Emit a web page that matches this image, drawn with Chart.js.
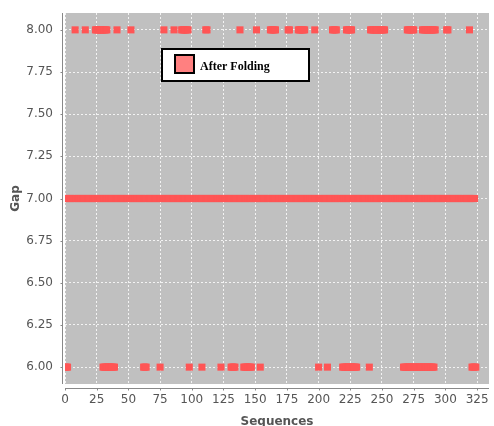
<!DOCTYPE html>
<html>
<head>
<meta charset="utf-8">
<script src="https://cdn.jsdelivr.net/npm/chart.js@4/dist/chart.umd.min.js"></script>
<style>
  html, body { margin: 0; padding: 0; background: #ffffff; }
  #wrap { width: 494px; height: 426px; }
</style>
</head>
<body>
<div id="wrap"><canvas id="chart" width="494" height="426"></canvas></div>
<script>
// Series name shown in the legend
const seriesName = 'After Folding';

// Every sequence in this span has a gap of 7
const gap7Span = [0, 323];

// Runs of consecutive sequences [first, last] that also have a gap of 8
const gap8Runs = [
  [8, 8], [16, 16], [24, 33], [41, 41], [52, 52], [78, 78], [86, 86],
  [92, 97], [111, 112], [138, 138], [151, 151], [162, 166], [176, 177],
  [184, 189], [197, 197], [211, 214], [222, 226], [241, 252], [270, 275],
  [282, 292], [301, 302], [319, 319]
];

// Runs of consecutive sequences [first, last] that also have a gap of 6
const gap6Runs = [
  [0, 2], [30, 39], [62, 64], [75, 75], [98, 98], [108, 108], [123, 123],
  [131, 134], [141, 147], [154, 154], [200, 200], [207, 207], [219, 230],
  [240, 240], [267, 291], [321, 324]
];

// Axis ticks
const xTickValues = [0, 25, 50, 75, 100, 125, 150, 175, 200, 225, 250, 275, 300, 325];
const yTickValues = [6.00, 6.25, 6.50, 6.75, 7.00, 7.25, 7.50, 7.75, 8.00];

// Axis titles
const xTitle = 'Sequences';
const yTitle = 'Gap';

function runsToPoints(runs, gap) {
  const pts = [];
  for (const [first, last] of runs) {
    for (let s = first; s <= last; s++) pts.push({ x: s, y: gap });
  }
  return pts;
}

const points = [
  ...runsToPoints([gap7Span], 7),
  ...runsToPoints(gap8Runs, 8),
  ...runsToPoints(gap6Runs, 6)
];

const AXIS_GRAY = '#888888';
const TEXT_GRAY = '#555555';

// Grey plot background
const plotBackground = {
  id: 'plotBackground',
  beforeDraw(chart) {
    const { ctx, chartArea: a } = chart;
    ctx.save();
    ctx.fillStyle = '#c0c0c0';
    ctx.fillRect(a.left, a.top, a.right - a.left, a.bottom - a.top);
    ctx.restore();
  }
};

// Axis lines set slightly off the plot, with short tick marks
const offsetAxes = {
  id: 'offsetAxes',
  afterDraw(chart) {
    const { ctx, chartArea: a, scales } = chart;
    ctx.save();
    ctx.strokeStyle = AXIS_GRAY;
    ctx.lineWidth = 1;
    ctx.beginPath();
    // y axis
    const ax = a.left - 2.5;
    ctx.moveTo(ax, a.top);
    ctx.lineTo(ax, a.bottom);
    for (const v of yTickValues) {
      const py = Math.round(scales.y.getPixelForValue(v)) + 0.5;
      ctx.moveTo(ax - 2, py);
      ctx.lineTo(ax, py);
    }
    // x axis
    const ay = a.bottom + 4.5;
    ctx.moveTo(a.left, ay);
    ctx.lineTo(a.right, ay);
    for (const v of xTickValues) {
      const px = Math.round(scales.x.getPixelForValue(v)) + 0.5;
      ctx.moveTo(px, ay);
      ctx.lineTo(px, ay + 2);
    }
    ctx.stroke();
    ctx.restore();
  }
};

// Boxed legend inside the plot
const boxedLegend = {
  id: 'boxedLegend',
  afterDatasetsDraw(chart) {
    const { ctx } = chart;
    const ds = chart.data.datasets[0];
    ctx.save();
    ctx.fillStyle = '#ffffff';
    ctx.fillRect(162, 49, 147, 32);
    ctx.strokeStyle = '#000000';
    ctx.lineWidth = 2;
    ctx.strokeRect(162, 49, 147, 32);
    ctx.fillStyle = '#ff8080';
    ctx.fillRect(175, 55, 19, 18);
    ctx.strokeRect(175, 55, 19, 18);
    ctx.fillStyle = '#000000';
    ctx.font = 'bold 12px "Liberation Serif", "Times New Roman", serif';
    ctx.textBaseline = 'alphabetic';
    ctx.textAlign = 'left';
    ctx.fillText(ds.label, 200, 70);
    ctx.restore();
  }
};

const tickFont = { family: '"DejaVu Sans", sans-serif', size: 12 };
const titleFont = { family: '"DejaVu Sans", sans-serif', size: 12, weight: 'bold' };

new Chart(document.getElementById('chart'), {
  type: 'scatter',
  data: {
    datasets: [{
      label: seriesName,
      data: points,
      pointStyle: 'rect',
      pointRadius: 5,
      pointHoverRadius: 5,
      pointBorderWidth: 0,
      backgroundColor: '#ff5555',
      borderColor: '#ff5555',
      clip: 0
    }]
  },
  options: {
    responsive: false,
    devicePixelRatio: 1,
    animation: false,
    events: [],
    layout: { padding: { top: 13, right: 1, left: 0, bottom: 0 } },
    plugins: {
      legend: { display: false },
      tooltip: { enabled: false }
    },
    scales: {
      x: {
        type: 'linear',
        position: 'bottom',
        min: 0,
        max: 334.4,
        afterFit(s) {
          s.height = 42;
          s.paddingLeft = 0; s.paddingRight = 0; s.paddingTop = 0; s.paddingBottom = 0;
        },
        afterBuildTicks(s) { s.ticks = xTickValues.map(v => ({ value: v })); },
        grid: { color: 'rgba(255,255,255,0.8)', lineWidth: 1, drawTicks: false },
        border: { display: false, dash: [2, 2] },
        ticks: { padding: 9, font: tickFont, color: TEXT_GRAY, autoSkip: false, maxRotation: 0 },
        title: {
          display: true, text: xTitle, font: titleFont, color: TEXT_GRAY,
          padding: { top: 0, bottom: -3 }
        }
      },
      y: {
        type: 'linear',
        min: 5.9,
        max: 8.1,
        afterFit(s) {
          s.width = 65;
          s.paddingLeft = 0; s.paddingRight = 0; s.paddingTop = 0; s.paddingBottom = 0;
        },
        afterBuildTicks(s) { s.ticks = yTickValues.map(v => ({ value: v })); },
        grid: { color: 'rgba(255,255,255,0.8)', lineWidth: 1, drawTicks: false },
        border: { display: false, dash: [2, 2] },
        ticks: {
          padding: 12, font: tickFont, color: TEXT_GRAY,
          callback: v => Number(v).toFixed(2)
        },
        title: {
          display: true, text: yTitle, font: titleFont, color: TEXT_GRAY,
          padding: { top: 9, bottom: 0 }
        }
      }
    }
  },
  plugins: [plotBackground, offsetAxes, boxedLegend]
});
</script>
</body>
</html>
